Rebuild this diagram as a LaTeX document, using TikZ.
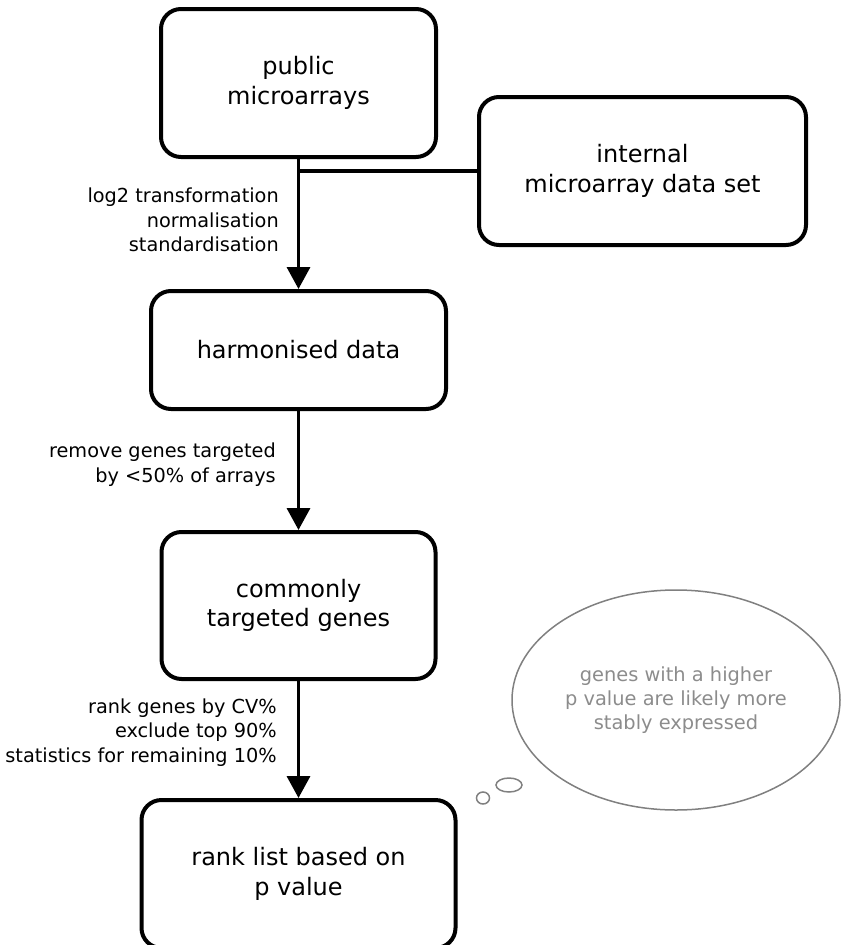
\documentclass[tikz,border=0pt]{standalone}
\usepackage{fontspec}
\setmainfont{DejaVu Sans}
\usepackage{xcolor}
\usetikzlibrary{arrows.meta,positioning,shapes.geometric}

\begin{document}
\begin{tikzpicture}[
	x=1pt,y=-1pt,
	box/.style={draw,line width=4pt,rounded corners=20pt,align=center,font=\fontsize{24}{29.5}\selectfont},
	arrow/.style={-{Triangle[length=22pt,width=23pt]},line width=3.5pt},
	lbl/.style={align=right,inner sep=0pt,font=\fontsize{19.3}{24.5}\selectfont},
	thought/.style={draw=black!50,line width=1.5pt,ellipse,inner sep=0pt}
	]
	\useasboundingbox (0,0) rectangle (842,945);
	\node[box,minimum width=275pt,minimum height=148pt] (pub) at (298.5,83) {public\\microarrays};
	\node[box,minimum width=327pt,minimum height=148pt,right=39pt of pub,yshift=-88pt] (int) {internal\\microarray data set};
	\node[box,minimum width=295pt,minimum height=118pt,below=130pt of pub] (harm) {harmonised data};
	\node[box,minimum width=274pt,minimum height=147pt,below=119pt of harm] (comm) {commonly\\targeted genes};
	\node[box,minimum width=314pt,minimum height=148pt,below=117pt of comm] (rank) {rank list based on\\p value};
	% thought bubble
	\node[thought,minimum width=328pt,minimum height=220pt,text=black!45,align=center,font=\fontsize{19.4}{24}\selectfont] (cloud) at (676,700) {genes with a higher\\p value are likely more\\stably expressed};
	\node[thought,minimum width=26pt,minimum height=14pt] (bub1) at (509,785) {};
	\node[thought,minimum width=13pt,minimum height=12pt] (bub2) at (483,798) {};
	% connectors
	\coordinate (join) at (pub.south |- int.west);
	\draw[line width=3.5pt] (int.west)--(join);
	\draw[arrow] (pub.south)--node[lbl,left=18pt,pos=0.47] (l1) {log2 transformation\\normalisation\\standardisation} (harm.north);
	\draw[arrow] (harm.south)--node[lbl,left=21pt,pos=0.45] (l2) {remove genes targeted\\by <50\% of arrays} (comm.north);
	\draw[arrow] (comm.south)--node[lbl,left=20pt,pos=0.44] (l3) {rank genes by CV\%\\exclude top 90\%\\statistics for remaining 10\%} (rank.north);
\end{tikzpicture}
\end{document}
